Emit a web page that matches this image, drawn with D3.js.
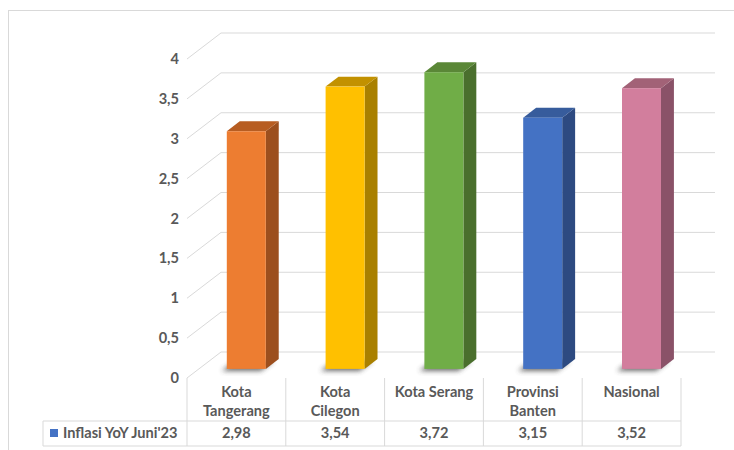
<!DOCTYPE html>
<html>
<head>
<meta charset="utf-8">
<script src="https://cdn.jsdelivr.net/npm/d3@7"></script>
<style>
  body { margin: 0; background: #fff; }
  svg text { font-family: Lato, "Open Sans", sans-serif; font-weight: bold; fill: #595959; font-size: 14.6px; }
</style>
</head>
<body>
<div id="chart-container"></div>
<script>
var categories = ["Kota Tangerang", "Kota Cilegon", "Kota Serang", "Provinsi Banten", "Nasional"];
var labelLines = [["Kota", "Tangerang"], ["Kota", "Cilegon"], ["Kota Serang"], ["Provinsi", "Banten"], ["Nasional"]];
var values = [2.98, 3.54, 3.72, 3.15, 3.52];
var valueLabels = ["2,98", "3,54", "3,72", "3,15", "3,52"];
var yTicks = [0, 0.5, 1, 1.5, 2, 2.5, 3, 3.5, 4];
var seriesName = "Inflasi YoY Juni'23";

var faceColors = ["#ED7D31", "#FFC000", "#70AD47", "#4472C4", "#D27E9D"];
var sideColors = ["#9C4F1E", "#A98000", "#4A6F2D", "#2D4A81", "#8A5268"];
var topColors  = ["#B75D22", "#C29100", "#5A8737", "#375C9C", "#A26277"];

var width = 734, height = 450;
var left = 187, right = 681;
var depthX = 34, depthY = -26;      // full floor depth in screen px
var barFront = 0.35, barBack = 0.73; // bar depth as a share of floor depth
var barWidth = 39;

var svg = d3.select('#chart-container')
            .append('svg')
            .attr('width', width)
            .attr('height', height);

var defs = svg.append('defs');
defs.append('filter').attr('id', 'shadow')
    .attr('x', '-50%').attr('y', '-50%').attr('width', '200%').attr('height', '200%')
  .append('feGaussianBlur').attr('stdDeviation', 2.5);

// outer chart border
svg.append('rect')
   .attr('x', 8.5).attr('y', 10.5)
   .attr('width', 760).attr('height', 460)
   .attr('fill', 'none').attr('stroke', '#D9D9D9');

var y = d3.scaleLinear().domain([0, 4]).range([378, 59]);
var x = d3.scaleBand().domain(categories).range([left, right]);

function px(x0, f) { return x0 + depthX * f; }
function py(y0, f) { return y0 + depthY * f; }

// gridlines: side wall diagonals + back wall horizontals
var grid = svg.append('g').attr('stroke', '#D9D9D9').attr('fill', 'none');
grid.selectAll('path')
    .data(yTicks)
    .enter()
    .append('path')
      .attr('d', function(d) {
        return 'M' + left + ',' + y(d) + 'L' + px(left, 1) + ',' + py(y(d), 1) + 'L' + px(right, 1) + ',' + py(y(d), 1);
      });

// y tick labels
svg.selectAll('text.ytick')
   .data(yTicks)
   .enter()
   .append('text')
     .attr('class', 'ytick')
     .attr('x', 179)
     .attr('y', function(d) { return y(d); })
     .attr('dy', '0.35em')
     .attr('text-anchor', 'end')
     .text(function(d) { return d3.format('.1~f')(d).replace('.', ','); });

// bars
var bars = svg.selectAll('g.bar')
   .data(categories)
   .enter()
   .append('g')
     .attr('class', 'bar');

function barX(c) { return x(c) + (x.bandwidth() - barWidth) / 2 - 2; }

bars.append('path')
    .attr('filter', 'url(#shadow)')
    .attr('fill', '#3a3a3a')
    .attr('opacity', 0.75)
    .attr('d', function(c) {
      var x0 = barX(c) - 5, y0 = y(0) + 2;
      return 'M' + px(x0, barFront) + ',' + py(y0, barFront) +
             'L' + px(x0 + barWidth, barFront) + ',' + py(y0, barFront) +
             'L' + px(x0 + barWidth, barBack) + ',' + py(y0, barBack) +
             'L' + px(x0, barBack) + ',' + py(y0, barBack) + 'Z';
    });

bars.append('path')
    .attr('fill', function(c, i) { return sideColors[i]; })
    .attr('d', function(c, i) {
      var x1 = barX(c) + barWidth, yt = y(values[i]), yb = y(0);
      return 'M' + px(x1, barFront) + ',' + py(yb, barFront) +
             'L' + px(x1, barFront) + ',' + py(yt, barFront) +
             'L' + px(x1, barBack) + ',' + py(yt, barBack) +
             'L' + px(x1, barBack) + ',' + py(yb, barBack) + 'Z';
    });

bars.append('path')
    .attr('fill', function(c, i) { return topColors[i]; })
    .attr('d', function(c, i) {
      var x0 = barX(c), yt = y(values[i]);
      return 'M' + px(x0, barFront) + ',' + py(yt, barFront) +
             'L' + px(x0 + barWidth, barFront) + ',' + py(yt, barFront) +
             'L' + px(x0 + barWidth, barBack) + ',' + py(yt, barBack) +
             'L' + px(x0, barBack) + ',' + py(yt, barBack) + 'Z';
    });

bars.append('rect')
    .attr('fill', function(c, i) { return faceColors[i]; })
    .attr('x', function(c) { return px(barX(c), barFront); })
    .attr('y', function(c, i) { return py(y(values[i]), barFront); })
    .attr('width', barWidth)
    .attr('height', function(c, i) { return y(0) - y(values[i]); });

// data table
var rowTop = 421, rowBottom = 446, legendLeft = 43;
var table = svg.append('g').attr('stroke', '#D9D9D9').attr('fill', 'none');
table.selectAll('line.col')
     .data(categories.concat(['end']))
     .enter()
     .append('line')
       .attr('x1', function(c, i) { return left + i * x.step(); })
       .attr('x2', function(c, i) { return left + i * x.step(); })
       .attr('y1', y(0))
       .attr('y2', rowBottom);
table.append('path')
     .attr('d', 'M' + legendLeft + ',' + rowTop + 'H' + right + 'M' + legendLeft + ',' + rowBottom + 'H' + right +
                'M' + legendLeft + ',' + rowTop + 'V' + rowBottom);

svg.selectAll('text.cat')
   .data(categories)
   .enter()
   .append('text')
     .attr('class', 'cat')
     .attr('text-anchor', 'middle')
     .attr('x', function(c) { return x(c) + x.bandwidth() / 2; })
     .attr('y', 397)
   .selectAll('tspan')
     .data(function(c, i) { return labelLines[i]; })
     .enter()
     .append('tspan')
       .attr('x', function() { var c = d3.select(this.parentNode).datum(); return x(c) + x.bandwidth() / 2; })
       .attr('dy', function(d, i) { return i ? 19 : 0; })
       .text(function(d) { return d; });

svg.selectAll('text.val')
   .data(categories)
   .enter()
   .append('text')
     .attr('class', 'val')
     .attr('text-anchor', 'middle')
     .attr('x', function(c) { return x(c) + x.bandwidth() / 2; })
     .attr('y', 438)
     .text(function(c, i) { return valueLabels[i]; });

svg.append('rect')
   .attr('x', 50).attr('y', 429)
   .attr('width', 8).attr('height', 8)
   .attr('fill', faceColors[3]);
svg.append('text')
   .attr('x', 63).attr('y', 438)
   .text(seriesName);
</script>
</body>
</html>
